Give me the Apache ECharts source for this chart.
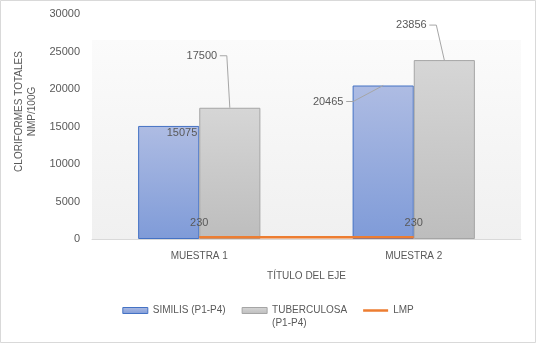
<!DOCTYPE html>
<html>
<head>
<meta charset="utf-8">
<script src="https://cdn.jsdelivr.net/npm/echarts@6/dist/echarts.min.js"></script>
<style>
  html, body { margin: 0; padding: 0; background: #ffffff; }
  #chart { width: 536px; height: 343px; }
</style>
</head>
<body>
<div id="chart"></div>
<script>
// Sample categories and series values
const categories = ['MUESTRA 1', 'MUESTRA 2'];
const similis = [15075, 20465];
const tuberculosa = [17500, 23856];
const lmp = [230, 230];
const yMin = 0;
const yMax = 30000;
const yStep = 5000;

const FONT = '"Liberation Sans", Arial, sans-serif';
const TEXT = '#595959';
const CAT_GAP = 0.43;

// Callout labels: [category index, value, bar side (-1 left / +1 right), label dx, label dy]
const callouts = [
  [0, tuberculosa[0], 1, -28, -52],
  [1, similis[1], -1, -55, 16],
  [1, tuberculosa[1], 1, -33, -35]
];

function renderCallout(params, api) {
  const cat = api.value(0);
  const val = api.value(1);
  const side = api.value(2);
  const dx = api.value(3);
  const dy = api.value(4);
  const pt = api.coord([cat, val]);
  const band = api.size([1, 0])[0];
  const barW = band * (1 - CAT_GAP) / 2;
  const bx = pt[0] + side * barW / 2;
  const by = pt[1];
  const lx = bx + dx;
  const ly = by + dy;
  const half = 15;
  return {
    type: 'group',
    children: [
      {
        type: 'polyline',
        shape: { points: [[lx + half + 3, ly], [lx + half + 10, ly], [bx, by]] },
        style: { stroke: '#a6a6a6', lineWidth: 1, fill: null }
      },
      {
        type: 'text',
        x: lx, y: ly,
        style: {
          text: String(val), align: 'center', verticalAlign: 'middle',
          fill: TEXT, font: '11px ' + FONT
        }
      }
    ]
  };
}

const chart = echarts.init(document.getElementById('chart'), null, { renderer: 'canvas' });

chart.setOption({
  backgroundColor: '#ffffff',
  animation: false,
  textStyle: { fontFamily: FONT, color: TEXT },
  graphic: [{
    type: 'rect',
    shape: { x: 0.5, y: 0.5, width: 535, height: 342 },
    style: { fill: null, stroke: '#d9d9d9', lineWidth: 1 },
    silent: true
  }],
  grid: {
    left: 92, right: 15, top: 14, bottom: 104,
    show: true,
    borderWidth: 0,
    backgroundColor: {
      type: 'linear', x: 0, y: 0, x2: 0, y2: 1,
      colorStops: [
        { offset: 0, color: '#ffffff' },
        { offset: 0.115, color: '#ffffff' },
        { offset: 0.116, color: '#fbfbfb' },
        { offset: 1, color: '#f0f0f0' }
      ]
    }
  },
  legend: {
    left: 'center',
    top: 291,
    padding: 0,
    itemWidth: 25,
    itemHeight: 6,
    itemGap: 16,
    itemStyle: { borderWidth: 1 },
    textStyle: { fontFamily: FONT, fontSize: 10, color: TEXT, lineHeight: 13 },
    formatter: function (name) {
      // the long entry wraps onto a second line, first line level with the icon
      return name === 'TUBERCULOSA (P1-P4)' ? ' \nTUBERCULOSA\n(P1-P4)' : name;
    },
    data: [
      { name: 'SIMILIS (P1-P4)', icon: 'rect' },
      { name: 'TUBERCULOSA (P1-P4)', icon: 'rect' },
      { name: 'LMP', icon: 'path://M0,0H100V10H0Z' }
    ]
  },
  xAxis: {
    type: 'category',
    data: categories,
    name: 'TÍTULO DEL EJE',
    nameLocation: 'middle',
    nameGap: 32,
    nameTextStyle: { fontFamily: FONT, fontSize: 10, color: TEXT },
    axisLine: { show: true, lineStyle: { color: '#d9d9d9', width: 1 } },
    axisTick: { show: false },
    axisLabel: { fontFamily: FONT, fontSize: 10, color: TEXT, margin: 12 }
  },
  yAxis: {
    type: 'value',
    min: yMin, max: yMax, interval: yStep,
    name: 'CLORIFORMES TOTALES\nNMP/100G',
    nameLocation: 'middle',
    nameRotate: 90,
    nameGap: 45,
    nameTextStyle: { fontFamily: FONT, fontSize: 10, color: TEXT, lineHeight: 13, padding: [0, 0, 0, 30] },
    axisLine: { show: false },
    axisTick: { show: false },
    splitLine: { show: false },
    axisLabel: {
      fontFamily: FONT, fontSize: 11, color: TEXT, margin: 12,
      formatter: function (v) { return String(v); }
    }
  },
  series: [
    {
      name: 'SIMILIS (P1-P4)',
      type: 'bar',
      barGap: '0%',
      barCategoryGap: (CAT_GAP * 100) + '%',
      data: [
        { value: similis[0], label: { show: true, position: 'insideTopRight', distance: 2 } },
        { value: similis[1] }
      ],
      label: { show: false, fontFamily: FONT, fontSize: 11, color: TEXT },
      itemStyle: {
        color: {
          type: 'linear', x: 0, y: 0, x2: 0, y2: 1,
          colorStops: [{ offset: 0, color: '#aebce3' }, { offset: 1, color: '#7f9bd8' }]
        },
        borderColor: '#4472c4',
        borderWidth: 1
      }
    },
    {
      name: 'TUBERCULOSA (P1-P4)',
      type: 'bar',
      data: tuberculosa,
      itemStyle: {
        color: {
          type: 'linear', x: 0, y: 0, x2: 0, y2: 1,
          colorStops: [{ offset: 0, color: '#d6d6d6' }, { offset: 1, color: '#bdbdbd' }]
        },
        borderColor: '#a5a5a5',
        borderWidth: 1
      }
    },
    {
      name: 'LMP',
      type: 'line',
      data: lmp,
      showSymbol: true,
      symbol: 'circle',
      symbolSize: 0,
      lineStyle: { color: '#ed7d31', width: 2.5 },
      itemStyle: { color: '#ed7d31' },
      label: { show: true, position: 'top', distance: 9, fontFamily: FONT, fontSize: 11, color: TEXT },
      z: 3
    },
    {
      name: 'callouts',
      type: 'custom',
      renderItem: renderCallout,
      data: callouts,
      clip: false,
      silent: true,
      z: 4
    }
  ]
});
</script>
</body>
</html>
